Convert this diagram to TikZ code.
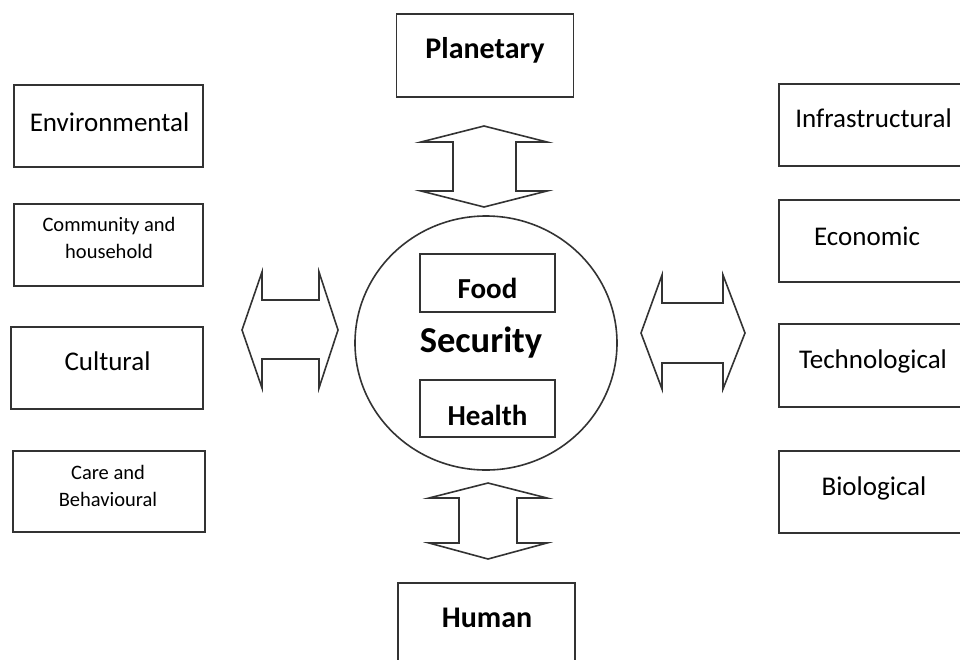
\documentclass[tikz,border=0pt]{standalone}
\usepackage{fontspec}
\usetikzlibrary{shapes.geometric}
\setmainfont{Carlito}
\begin{document}
\begin{tikzpicture}[x=1pt,y=-1pt,
  line/.style={draw=black!80,line width=1.6pt},
  box/.style={line,rectangle,inner sep=0pt,minimum width=#1,minimum height=82pt},
  box/.default=189pt,
  lbl/.style={inner sep=0pt,anchor=base,font=\fontsize{27}{32}\selectfont},
  small/.style={inner sep=0pt,anchor=center,align=center,font=\fontsize{20.5}{27}\selectfont},
  blbl/.style={inner sep=0pt,anchor=base,font=\bfseries\fontsize{30}{36}\selectfont},
  arrowshape/.style={line,fill=white,line join=miter}]
\useasboundingbox (0,0) rectangle (960,659);
\clip (0,0) rectangle (960,659);
% top and bottom boxes
\node[box=177pt,minimum height=83pt] (planet) at (485,55.5) {};
\node[blbl] (planetL) at (485,58) {Planetary};
\node[box=177pt] (human) at (486.5,624) {};
\node[blbl] (humanL) at (487,627) {Human};
% left boxes
\node[box] (env) at (108.5,126) {};
\node[lbl] (envL) at (109.5,131) {Environmental};
\node[box] (comm) at (108.5,245) {};
\node[small] (commL) at (109,237.5) {Community and\\household};
\node[box=192pt] (cult) at (107,368) {};
\node[lbl] (cultL) at (107.5,370.5) {Cultural};
\node[box=192pt,minimum height=81pt] (care) at (109,491.5) {};
\node[small] (careL) at (108,485.5) {Care and\\Behavioural};
% right boxes
\node[box] (infra) at (873.5,125) {};
\node[lbl] (infraL) at (873.5,127) {Infrastructural};
\node[box] (econ) at (873.5,241) {};
\node[lbl] (econL) at (867,245) {Economic};
\node[box,minimum height=83pt] (tech) at (873.5,365.5) {};
\node[lbl] (techL) at (873,368) {Technological};
\node[box] (bio) at (873.5,492) {};
\node[lbl] (bioL) at (874,495) {Biological};
% central circle
\node[line,ellipse,minimum width=262pt,minimum height=254pt,inner sep=0pt] (circ) at (486,343) {};
\node[box=135pt,minimum height=58pt] (food) at (487.5,283) {};
\node[blbl,font=\bfseries\fontsize{29}{35}\selectfont] (foodL) at (487.5,298) {Food};
\node[inner sep=0pt,anchor=base,font=\bfseries\fontsize{36.5}{42}\selectfont] (sec) at (481,352.5) {Security};
\node[box=135pt,minimum height=57pt] (health) at (487.5,408.5) {};
\node[blbl,font=\bfseries\fontsize{29}{35}\selectfont] (healthL) at (487.5,425) {Health};
% double arrows
\draw[arrowshape] (484,126) -- (547,142) -- (516,142) -- (516,191) -- (547,191) -- (484,207)
  -- (421,191) -- (453,191) -- (453,142) -- (421,142) -- cycle;
\draw[arrowshape] (488,483) -- (547,498) -- (517,498) -- (517,543) -- (547,543) -- (488,559)
  -- (429,543) -- (459,543) -- (459,498) -- (429,498) -- cycle;
\draw[arrowshape] (242,330) -- (262,272) -- (262,300) -- (319,300) -- (319,272) -- (338,330)
  -- (319,388) -- (319,359) -- (262,359) -- (262,388) -- cycle;
\draw[arrowshape] (641,333) -- (662,275) -- (662,303) -- (723,303) -- (723,275) -- (745,333)
  -- (723,389) -- (723,363) -- (662,363) -- (662,389) -- cycle;
\end{tikzpicture}
\end{document}
